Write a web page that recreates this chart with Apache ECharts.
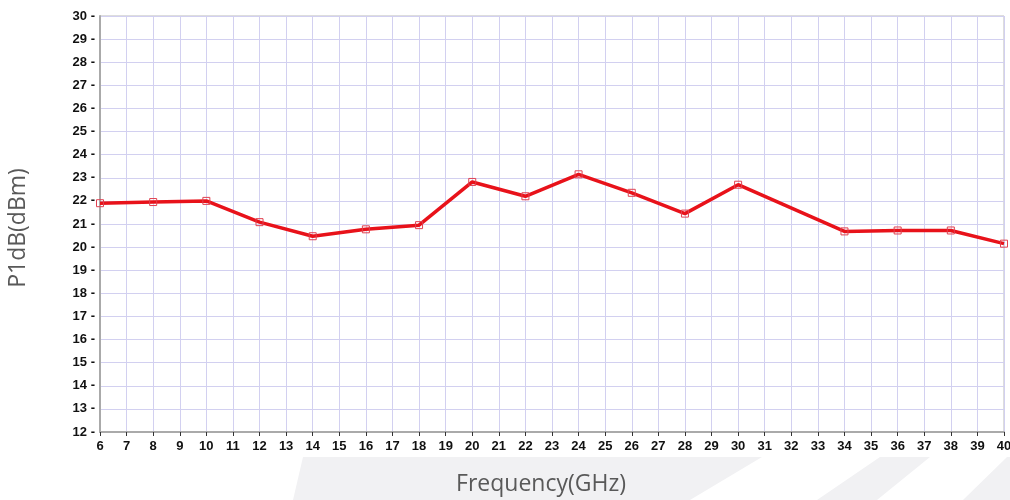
<!DOCTYPE html>
<html>
<head>
<meta charset="utf-8">
<script src="https://cdn.jsdelivr.net/npm/echarts@6/dist/echarts.min.js"></script>
<style>
  html, body { margin: 0; padding: 0; background: #fff; }
  #chart { width: 1010px; height: 500px; }
</style>
</head>
<body>
<div id="chart"></div>
<script>
// frequency points (GHz) and measured P1dB (dBm)
const freqs = [6, 8, 10, 12, 14, 16, 18, 20, 22, 24, 26, 28, 30, 34, 36, 38, 40];
const p1db = [21.9, 21.95, 22.0, 21.08, 20.47, 20.77, 20.95, 22.82, 22.2, 23.15, 22.35, 21.45, 22.7, 20.68, 20.72, 20.72, 20.15];

const chart = echarts.init(document.getElementById('chart'));

const tickFont = {
  color: '#111',
  fontFamily: 'Liberation Sans',
  fontWeight: 'bold',
  fontSize: 13
};

// faint watermark bands behind the bottom area
const band = (pts) => ({
  type: 'polygon', z: -10, silent: true,
  shape: { points: pts },
  style: { fill: '#f1f1f3' }
});

const option = {
  animation: false,
  grid: {
    left: 100, right: 6, top: 16, bottom: 68,
    outerBoundsMode: 'none',
    show: true, borderColor: '#bbb', borderWidth: 1
  },
  xAxis: {
    type: 'value',
    min: 6, max: 40, interval: 1,
    axisLine: { show: true, lineStyle: { color: '#aaa', width: 2 } },
    axisTick: { show: true, length: 4, lineStyle: { color: '#333' } },
    axisLabel: Object.assign({ margin: 8 }, tickFont),
    splitLine: { show: true, lineStyle: { color: '#d2d0f0', width: 1 } }
  },
  yAxis: {
    type: 'value',
    min: 12, max: 30, interval: 1,
    axisLine: { show: true, lineStyle: { color: '#aaa', width: 2 } },
    axisTick: { show: false },
    axisLabel: Object.assign({ margin: 5, formatter: v => v + ' -' }, tickFont),
    splitLine: { show: true, lineStyle: { color: '#d2d0f0', width: 1 } }
  },
  graphic: [
    band([[303, 457], [762, 457], [690, 500], [293, 500]]),
    band([[880, 457], [930, 457], [877, 500], [817, 500]]),
    band([[1007, 457], [1010, 457], [1010, 500], [963, 500]]),
    {
      type: 'text', x: 541, y: 484,
      style: {
        text: 'Frequency(GHz)', fill: '#595959', fontFamily: 'Open Sans', fontSize: 23,
        align: 'center', verticalAlign: 'middle'
      }
    },
    {
      type: 'text', x: 18, y: 228, rotation: Math.PI / 2,
      style: {
        text: 'P1dB(dBm)', fill: '#595959', fontFamily: 'Open Sans', fontSize: 23,
        align: 'center', verticalAlign: 'middle'
      }
    }
  ],
  series: [{
    type: 'line',
    data: freqs.map((f, i) => [f, p1db[i]]),
    lineStyle: { color: '#e8121a', width: 3.5 },
    symbol: 'rect',
    symbolSize: 7,
    itemStyle: { color: 'rgba(255,255,255,0)', borderColor: '#e04050', borderWidth: 1 },
    z: 3
  }]
};

chart.setOption(option);
</script>
</body>
</html>
